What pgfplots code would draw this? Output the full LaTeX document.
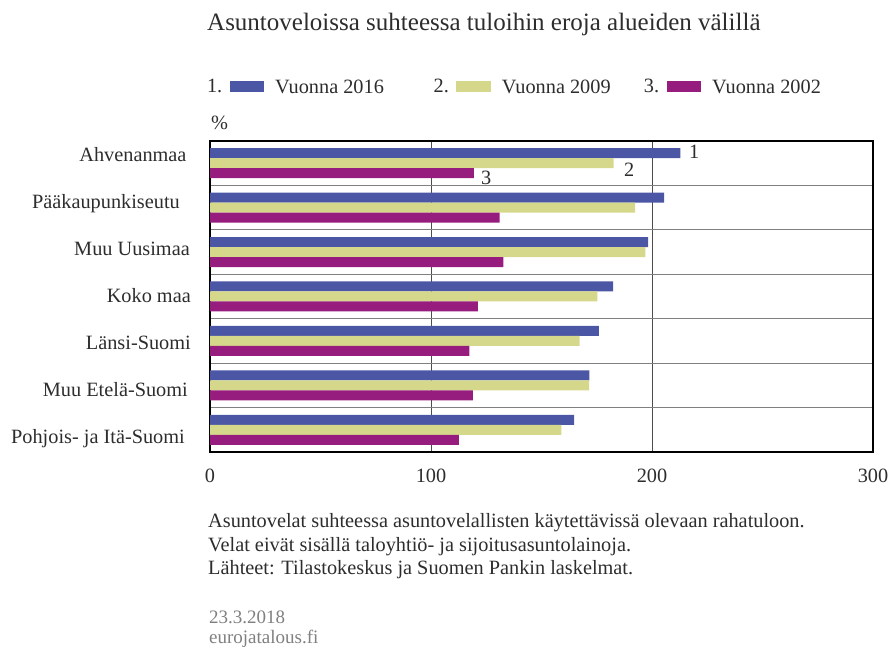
\documentclass[border=0pt]{standalone}
\usepackage{fontspec}
\setmainfont{Liberation Serif}
\usepackage{pgfplots}
\pgfplotsset{compat=1.18}
\definecolor{c16}{RGB}{75,86,164}
\definecolor{c09}{RGB}{213,216,138}
\definecolor{c02}{RGB}{150,29,125}
\definecolor{txt}{RGB}{45,45,45}
\newcommand{\F}{\fontsize{20.3pt}{24pt}\selectfont}
\begin{document}
\begin{tikzpicture}[x=1pt,y=1pt]
\useasboundingbox (0,0) rectangle (890,647);
\node[anchor=base west, inner sep=0pt, text=txt, font=\fontsize{25pt}{28pt}\selectfont] at (207,616.5) {Asuntoveloissa suhteessa tuloihin eroja alueiden välillä};
\node[anchor=base west, inner sep=0pt, text=txt, font=\F] at (211,517) {\%};
\node[anchor=base west, inner sep=0pt, text=txt, font=\F] at (208,119.7) {Asuntovelat suhteessa asuntovelallisten käytettävissä olevaan rahatuloon.};
\node[anchor=base west, inner sep=0pt, text=txt, font=\F] at (208,95.3) {Velat eivät sisällä taloyhtiö- ja sijoitusasuntolainoja.};
\node[anchor=base west, inner sep=0pt, text=txt, font=\F] at (208,72) {Lähteet: Tilastokeskus ja Suomen Pankin laskelmat.};
\node[anchor=base west, inner sep=0pt, text=black!50, font=\fontsize{19pt}{22pt}\selectfont] at (209,23.5) {23.3.2018};
\node[anchor=base west, inner sep=0pt, text=black!50, font=\fontsize{19pt}{22pt}\selectfont] at (209,3.5) {eurojatalous.fi};
\begin{axis}[
  at={(210pt,195pt)}, anchor=south west,
  scale only axis, width=663pt, height=311pt,
  xmin=0, xmax=300, ymin=-0.5, ymax=6.5,
  xbar, bar width=10pt,
  xtick={0,100,200,300},
  ytick={-0.304,0.752,1.808,2.865,3.921,4.978,6.034},
  yticklabels={Pohjois- ja Itä-Suomi\hspace*{6pt}, Muu Etelä-Suomi\hspace*{3pt}, Länsi-Suomi, Koko maa, Muu Uusimaa\hspace*{1pt}, Pääkaupunkiseutu\hspace*{11pt}, Ahvenanmaa\hspace*{4.3pt}},
  minor ytick={0.5,1.5,2.5,3.5,4.5,5.5},
  xmajorgrids=true, ymajorgrids=false, yminorgrids=true,
  major x grid style={black!70, line width=0.9pt},
  minor y grid style={black!50, line width=0.9pt},
  major tick length=0pt, minor tick length=0pt,
  axis line style={black, line width=1.2pt},
  /pgf/number format/assume math mode=true,
  xticklabel style={anchor=base, inner sep=0pt, yshift=-30.5pt, font=\F, text=txt},
  yticklabel style={anchor=base east, inner sep=0pt, xshift=-19pt, font=\F, text=txt},
  legend columns=3,
  legend cell align=left,
  legend style={at={(-0.0045,1.174)}, anchor=west, draw=none, fill=none, inner sep=0pt, outer sep=0pt,
    font=\F, text=txt, nodes={inner sep=0pt},
    /tikz/every odd column/.append style={column sep=11pt},
    /tikz/every even column/.append style={column sep=0pt}},
]
\addplot[xbar, fill=c16, draw=none, bar shift=10pt,
  legend image code/.code={\node[anchor=base east, inner sep=0pt, font=\F, text=txt] at (-7.5pt,-4.8pt) {1.}; \fill[c16] (0pt,-4.8pt) rectangle (34.5pt,6.8pt);}]
  coordinates {(164.8,0) (171.7,1) (176,2) (182.4,3) (198.2,4) (205.5,5) (212.8,6)};
\addlegendentry{\makebox[158.5pt][l]{Vuonna 2016}}
\addplot[xbar, fill=c09, draw=none, bar shift=0pt,
  legend image code/.code={\node[anchor=base east, inner sep=0pt, font=\F, text=txt] at (-7.5pt,-4.8pt) {2.}; \fill[c09] (0pt,-4.8pt) rectangle (34.5pt,6.8pt);}]
  coordinates {(159,0) (171.5,1) (167.2,2) (175.3,3) (197,4) (192.4,5) (182.6,6)};
\addlegendentry{\makebox[142pt][l]{Vuonna 2009}}
\addplot[xbar, fill=c02, draw=none, bar shift=-10pt,
  legend image code/.code={\node[anchor=base east, inner sep=0pt, font=\F, text=txt] at (-7.5pt,-4.8pt) {3.}; \fill[c02] (0pt,-4.8pt) rectangle (34.5pt,6.8pt);}]
  coordinates {(112.6,0) (118.9,1) (117.4,2) (121.2,3) (132.8,4) (131,5) (119.4,6)};
\addlegendentry{Vuonna 2002}
\node[anchor=base west, inner sep=0pt, font=\F, text=txt] at (axis cs:216.7,6.095) {1};
\node[anchor=base west, inner sep=0pt, font=\F, text=txt] at (axis cs:187.3,5.712) {2};
\node[anchor=base west, inner sep=0pt, font=\F, text=txt] at (axis cs:122.6,5.532) {3};
\end{axis}
\end{tikzpicture}
\end{document}
